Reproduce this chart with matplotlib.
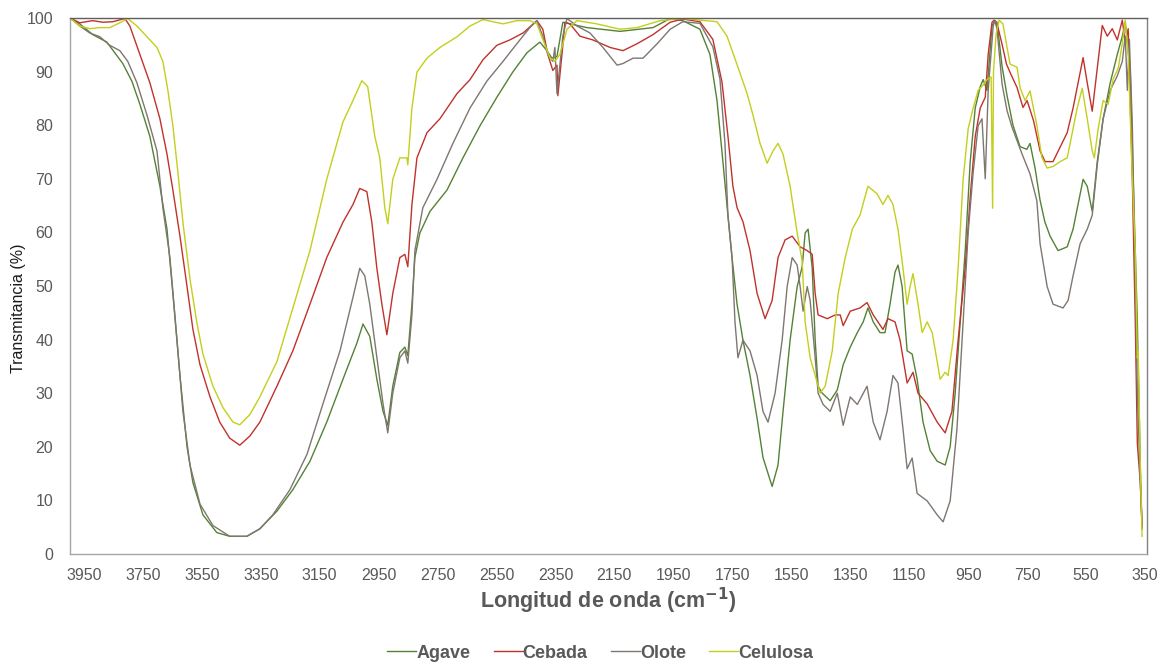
import matplotlib
matplotlib.use("Agg")
import matplotlib.pyplot as plt

plt.rcParams['font.family'] = ['Liberation Sans', 'DejaVu Sans']

# FTIR spectra: (wavenumber cm-1, transmittance %)
agave = [
    (3997, 100), (3964, 98.9), (3920, 96.9), (3872, 95.5), (3818, 91.5), (3787, 88.2),
    (3760, 83.9), (3726, 77.9), (3692, 68.6), (3668, 60.6), (3648, 48.6), (3624, 33.3),
    (3600, 20.0), (3580, 13.3), (3546, 7.3), (3499, 4.0), (3455, 3.3), (3397, 3.3),
    (3353, 4.7), (3295, 8.0), (3241, 12.0), (3183, 17.3), (3126, 24.6), (3071, 32.6),
    (3024, 39.3), (3003, 42.9), (2980, 40.6), (2956, 32.6), (2935, 26.6), (2919, 24.0),
    (2902, 31.3), (2878, 37.6), (2861, 38.6), (2851, 37.0), (2837, 46.6), (2827, 55.3),
    (2810, 59.9), (2776, 63.9), (2718, 67.9), (2664, 73.9), (2606, 79.9), (2549, 85.2),
    (2495, 89.9), (2447, 93.5), (2403, 95.5), (2379, 93.9), (2362, 92.5), (2345, 92.8),
    (2325, 99.2), (2301, 98.9), (2243, 98.2), (2131, 97.5), (2019, 98.2), (1961, 99.9),
    (1918, 99.5), (1860, 97.9), (1826, 93.2), (1802, 84.6), (1782, 73.2), (1765, 63.2),
    (1751, 55.3), (1734, 46.6), (1714, 39.9), (1690, 33.3), (1666, 25.3), (1646, 18.0),
    (1615, 12.6), (1595, 16.6), (1578, 26.6), (1554, 39.9), (1530, 49.9), (1513, 53.6),
    (1503, 59.9), (1493, 60.6), (1479, 53.3), (1469, 39.9), (1459, 31.3), (1445, 30.0),
    (1418, 28.6), (1394, 30.6), (1374, 35.3), (1350, 38.6), (1326, 41.3), (1306, 43.3),
    (1290, 45.9), (1272, 43.3), (1249, 41.3), (1232, 41.3), (1215, 46.6), (1198, 52.6),
    (1188, 53.9), (1174, 49.9), (1157, 37.9), (1140, 37.3), (1123, 32.6), (1103, 24.6),
    (1079, 19.3), (1055, 17.3), (1028, 16.6), (1011, 20.0), (994, 30.0), (977, 43.3),
    (960, 56.6), (943, 73.2), (926, 83.2), (909, 87.2), (899, 88.5), (886, 86.5),
    (869, 98.5), (859, 99.5), (852, 99.2), (835, 91.0), (818, 85.5), (798, 80.0),
    (774, 76.0), (751, 75.5), (740, 76.6), (723, 72.0), (706, 66.0), (690, 62.0),
    (672, 59.3), (645, 56.6), (614, 57.3), (594, 60.6), (570, 67.2), (560, 69.9),
    (546, 68.6), (529, 63.9), (512, 73.2), (492, 81.2), (468, 87.9), (444, 93.2),
    (427, 96.6), (417, 99.2), (400, 89.9), (390, 69.9), (376, 43.3), (366, 16.6), (360, 4.7),
]

cebada = [
    (3997, 100), (3964, 99.1), (3920, 99.5), (3885, 99.2), (3852, 99.3), (3811, 99.9),
    (3794, 98.5), (3760, 93.2), (3726, 87.9), (3692, 81.2), (3668, 74.6), (3648, 67.9),
    (3624, 59.3), (3600, 49.9), (3580, 41.9), (3556, 35.3), (3522, 29.3), (3489, 24.6),
    (3455, 21.6), (3421, 20.3), (3387, 22.0), (3353, 24.6), (3295, 31.3), (3241, 37.9),
    (3183, 46.6), (3126, 55.3), (3071, 61.9), (3037, 65.2), (3014, 68.2), (2990, 67.6),
    (2973, 61.9), (2956, 53.3), (2939, 46.6), (2922, 40.9), (2902, 48.6), (2878, 55.3),
    (2861, 55.9), (2851, 53.6), (2837, 65.2), (2820, 73.9), (2786, 78.6), (2742, 81.2),
    (2684, 85.9), (2640, 88.5), (2596, 92.2), (2549, 94.9), (2505, 95.9), (2460, 97.2),
    (2413, 99.5), (2393, 97.9), (2376, 93.2), (2359, 90.2), (2345, 91.2), (2342, 85.5),
    (2328, 93.2), (2318, 99.2), (2301, 98.9), (2267, 96.6), (2223, 95.9), (2165, 94.5),
    (2121, 93.9), (2073, 95.2), (2019, 96.9), (1961, 99.2), (1918, 99.8), (1860, 99.3),
    (1816, 96.0), (1785, 88.0), (1765, 78.0), (1748, 68.6), (1734, 64.6), (1714, 62.0),
    (1690, 56.6), (1666, 48.6), (1639, 43.9), (1615, 47.3), (1595, 55.3), (1571, 58.6),
    (1547, 59.3), (1520, 57.3), (1496, 56.6), (1479, 55.9), (1469, 48.6), (1459, 44.6),
    (1428, 43.9), (1401, 44.6), (1384, 44.6), (1374, 42.6), (1350, 45.3), (1317, 45.9),
    (1293, 46.9), (1272, 44.6), (1239, 41.9), (1222, 43.9), (1198, 43.3), (1181, 39.9),
    (1157, 31.9), (1137, 33.9), (1120, 30.0), (1089, 28.0), (1055, 24.6), (1028, 22.6),
    (1005, 26.6), (984, 39.9), (960, 53.3), (943, 66.6), (926, 77.9), (909, 83.2),
    (892, 85.2), (882, 93.2), (869, 99.2), (862, 99.6), (850, 98.5), (835, 95.1),
    (820, 91.4), (805, 89.5), (784, 87.0), (764, 83.3), (750, 84.6), (728, 80.8),
    (706, 75.2), (689, 73.2), (662, 73.2), (638, 75.9), (614, 78.6), (594, 83.2),
    (570, 89.9), (560, 92.6), (546, 87.9), (529, 82.6), (512, 90.6), (495, 98.6),
    (478, 96.6), (461, 98.0), (444, 95.9), (427, 99.6), (417, 95.3), (407, 98.0),
    (393, 69.9), (383, 43.3), (376, 20.6), (366, 13.3), (360, 5.3),
]

olote = [
    (3997, 100), (3964, 98.5), (3930, 97.2), (3896, 96.5), (3862, 94.9), (3828, 93.9),
    (3801, 91.9), (3770, 87.9), (3736, 81.9), (3702, 75.2), (3682, 64.6), (3658, 55.3),
    (3634, 39.9), (3614, 26.6), (3590, 16.6), (3556, 9.3), (3512, 5.3), (3455, 3.3),
    (3397, 3.3), (3353, 4.7), (3309, 7.3), (3251, 12.0), (3193, 18.6), (3139, 28.0),
    (3081, 37.9), (3037, 47.9), (3014, 53.3), (2997, 51.9), (2980, 46.6), (2956, 36.6),
    (2935, 28.0), (2919, 22.6), (2902, 30.0), (2878, 36.6), (2861, 37.9), (2851, 35.6),
    (2837, 44.6), (2827, 56.6), (2800, 64.6), (2752, 69.9), (2698, 76.6), (2640, 83.2),
    (2583, 88.2), (2528, 91.9), (2481, 95.2), (2437, 98.2), (2413, 99.5), (2393, 96.6),
    (2376, 93.2), (2359, 91.9), (2352, 94.5), (2345, 85.9), (2335, 91.2), (2325, 96.6),
    (2311, 99.9), (2277, 98.5), (2233, 97.2), (2189, 94.5), (2141, 91.2), (2121, 91.5),
    (2087, 92.5), (2053, 92.5), (2005, 95.2), (1961, 97.9), (1918, 99.3), (1860, 99.0),
    (1816, 94.6), (1792, 88.6), (1775, 76.6), (1765, 63.2), (1751, 55.3), (1741, 43.3),
    (1731, 36.6), (1714, 39.9), (1690, 37.9), (1666, 33.3), (1646, 26.6), (1629, 24.6),
    (1605, 30.0), (1581, 39.9), (1564, 49.9), (1547, 55.3), (1530, 53.9), (1520, 49.9),
    (1510, 45.3), (1496, 49.9), (1486, 47.3), (1469, 36.6), (1459, 30.0), (1442, 27.9),
    (1418, 26.6), (1394, 30.0), (1374, 24.0), (1350, 29.3), (1326, 27.9), (1293, 31.3),
    (1272, 24.6), (1249, 21.3), (1225, 26.6), (1205, 33.3), (1188, 31.9), (1171, 23.3),
    (1157, 15.9), (1140, 17.9), (1123, 11.3), (1089, 9.9), (1055, 7.3), (1035, 6.0),
    (1011, 9.9), (988, 23.3), (967, 43.3), (950, 59.9), (933, 71.2), (916, 79.9),
    (903, 81.2), (892, 70.0), (882, 86.5), (865, 98.5), (859, 99.5), (852, 97.9),
    (835, 87.7), (818, 82.7), (801, 79.6), (784, 77.1), (767, 74.6), (740, 70.9),
    (717, 65.9), (706, 57.9), (682, 49.9), (662, 46.6), (628, 45.9), (611, 47.3),
    (594, 51.9), (570, 57.9), (546, 60.6), (529, 63.2), (512, 72.6), (492, 81.2),
    (468, 86.5), (444, 89.2), (427, 91.9), (417, 96.6), (410, 86.5), (403, 96.0),
    (393, 80.0), (383, 50.0), (376, 30.0), (366, 13.3), (360, 5.3),
]

celulosa = [
    (3997, 100), (3964, 98.5), (3930, 98.0), (3896, 98.2), (3862, 98.2), (3828, 99.1),
    (3801, 99.9), (3770, 98.5), (3736, 96.5), (3702, 94.5), (3682, 91.9), (3665, 86.5),
    (3648, 79.9), (3631, 71.2), (3614, 61.9), (3590, 51.3), (3567, 43.3), (3546, 37.3),
    (3512, 31.3), (3478, 27.3), (3444, 24.6), (3421, 24.1), (3387, 26.0), (3353, 29.3),
    (3295, 35.9), (3241, 45.9), (3183, 56.6), (3126, 69.9), (3071, 80.6), (3037, 84.6),
    (3007, 88.3), (2987, 87.2), (2963, 77.9), (2946, 73.9), (2929, 64.6), (2919, 61.6),
    (2902, 69.9), (2878, 73.9), (2854, 73.9), (2851, 72.6), (2844, 77.9), (2837, 83.2),
    (2820, 89.9), (2786, 92.5), (2742, 94.5), (2684, 96.5), (2640, 98.5), (2596, 99.7),
    (2528, 98.9), (2481, 99.5), (2437, 99.5), (2413, 98.9), (2393, 96.0), (2369, 92.6),
    (2352, 91.9), (2335, 93.2), (2311, 97.9), (2277, 99.5), (2210, 98.9), (2131, 97.9),
    (2073, 98.2), (1995, 99.5), (1918, 99.9), (1802, 99.3), (1768, 96.6), (1734, 91.3),
    (1700, 85.9), (1680, 81.9), (1656, 76.6), (1632, 72.9), (1612, 75.2), (1595, 76.6),
    (1578, 74.6), (1554, 68.6), (1530, 59.9), (1513, 54.6), (1503, 43.3), (1486, 36.6),
    (1469, 33.3), (1452, 30.0), (1435, 31.3), (1411, 37.9), (1391, 48.6), (1367, 55.3),
    (1343, 60.6), (1317, 63.2), (1290, 68.6), (1259, 67.2), (1239, 65.2), (1222, 66.9),
    (1205, 65.2), (1188, 60.6), (1171, 53.3), (1157, 46.6), (1147, 49.9), (1137, 52.3),
    (1120, 46.6), (1106, 41.3), (1089, 43.3), (1072, 41.3), (1055, 35.9), (1045, 32.6),
    (1028, 33.9), (1018, 33.3), (1001, 39.9), (984, 53.3), (967, 69.9), (950, 79.3),
    (933, 83.2), (916, 86.5), (899, 87.5), (886, 88.5), (872, 89.0), (867, 64.5),
    (864, 90.0), (855, 97.0), (845, 99.6), (832, 98.9), (808, 91.4), (784, 90.8),
    (774, 87.0), (757, 84.6), (740, 86.4), (717, 80.0), (700, 74.0), (682, 72.0),
    (662, 72.3), (638, 73.2), (614, 73.9), (604, 76.6), (580, 83.2), (563, 86.9),
    (546, 81.2), (529, 75.2), (522, 73.9), (509, 79.3), (492, 84.6), (475, 83.9),
    (458, 88.6), (441, 90.6), (427, 95.2), (417, 99.6), (407, 93.2), (393, 70.0),
    (383, 56.6), (376, 36.6), (373, 37.9), (366, 16.6), (360, 3.3),
]

series = [
    ("Agave", agave, "#548235"),
    ("Cebada", cebada, "#c0322b"),
    ("Olote", olote, "#7f7670"),
    ("Celulosa", celulosa, "#c3cf1b"),
]

x_ticks = [3950, 3750, 3550, 3350, 3150, 2950, 2750, 2550, 2350, 2150,
           1950, 1750, 1550, 1350, 1150, 950, 750, 550, 350]
y_ticks = list(range(0, 101, 10))

fig = plt.figure(figsize=(11.61, 6.63), dpi=100)
ax = fig.add_axes([0.0603, 0.1644, 0.9277, 0.8085])

for name, pts, color in series:
    wn = [p[0] for p in pts]
    tr = [p[1] for p in pts]
    ax.plot(wn, tr, color=color, lw=1.0, label=name)

ax.set_xlim(3997, 343)
ax.set_ylim(0, 100)
ax.set_xticks(x_ticks)
ax.set_yticks(y_ticks)
ax.tick_params(length=0, labelsize=11.5, labelcolor="#595959")
ax.tick_params(axis="y", pad=12)
ax.tick_params(axis="x", pad=10)

ax.spines["left"].set_color("#a6a6a6")
ax.spines["bottom"].set_color("#a6a6a6")
ax.spines["top"].set_color("#5f5f5f")
ax.spines["right"].set_color("#808080")
for s in ax.spines.values():
    s.set_linewidth(1.0)

fig.text(0.524, 0.094, "Longitud de onda (cm$^{\\mathbf{-1}}$)", ha="center", va="center",
         fontsize=15.5, fontweight="bold", color="#595959")
fig.text(0.016, 0.535, "Transmitancia (%)", rotation=90, ha="center", va="center",
         fontsize=11.5, color="#1a1a1a")

leg = fig.legend(loc="center", bbox_to_anchor=(0.517, 0.015), ncol=4, frameon=False,
                 handlelength=1.6, handletextpad=0.0, columnspacing=1.3,
                 prop={"weight": "bold", "size": 13})
for t in leg.get_texts():
    t.set_color("#595959")

fig.savefig("out.png", dpi=100)
